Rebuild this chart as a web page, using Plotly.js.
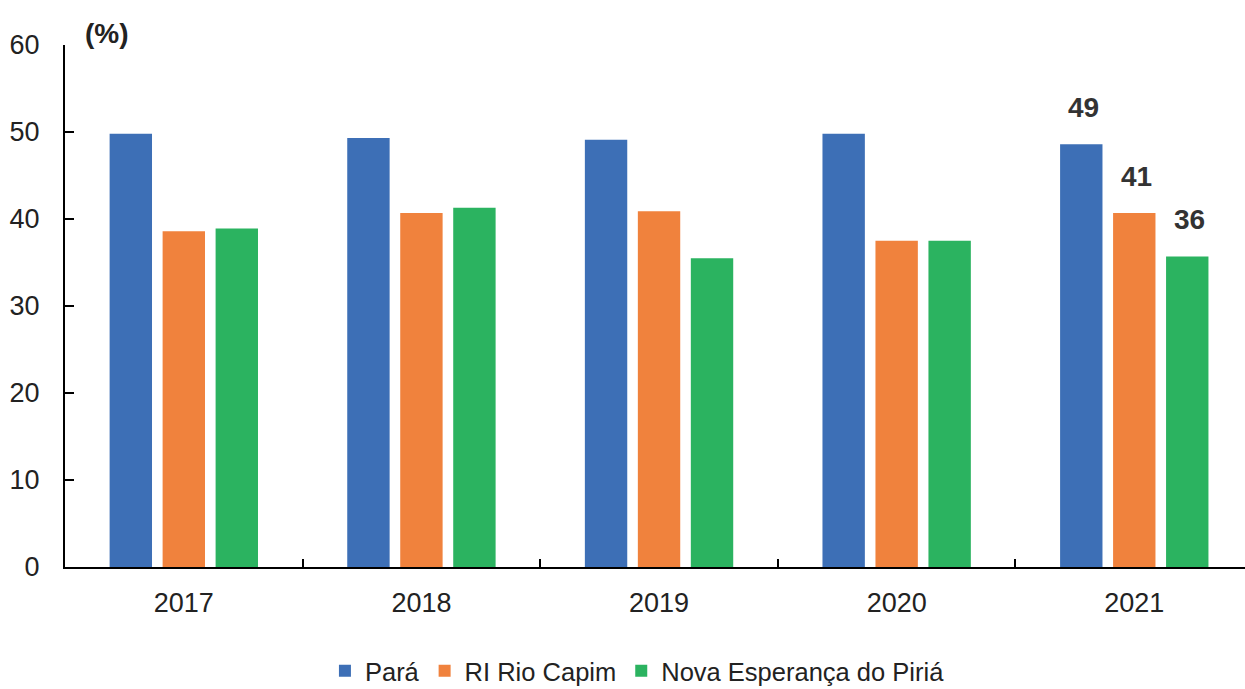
<!DOCTYPE html>
<html>
<head>
<meta charset="utf-8">
<script src="https://cdn.plot.ly/plotly-3.0.1.min.js"></script>
<style>html,body{margin:0;padding:0;background:#fff;}#chart{width:1245px;height:689px;}</style>
</head>
<body>
<div id="chart"></div>
<script>
const years = ['2017', '2018', '2019', '2020', '2021'];
const seriesNames = ['Pará', 'RI Rio Capim', 'Nova Esperança do Piriá'];
const para = [49.8, 49.3, 49.1, 49.8, 48.6];
const riRioCapim = [38.6, 40.7, 40.9, 37.5, 40.7];
const novaEsperanca = [38.9, 41.3, 35.5, 37.5, 35.7];
const labels2021 = ['49', '41', '36'];
const yTicks = [0, 10, 20, 30, 40, 50, 60];

const colors = ['#3D6FB6', '#F0823D', '#2BB360'];
const FONT = '"Liberation Sans Narrow", "Arial Narrow", "Liberation Sans", Arial, sans-serif';
const allSeries = [para, riRioCapim, novaEsperanca];

const traces = allSeries.map((vals, i) => ({
  type: 'bar',
  name: seriesNames[i],
  x: years,
  y: vals,
  marker: {color: colors[i], line: {width: 0}},
  hoverinfo: 'x+y+name'
}));

const slotPx = 53;
const lastIdx = years.length - 1;
const annotations = allSeries.map((vals, i) => ({
  x: lastIdx,
  y: vals[lastIdx],
  xref: 'x', yref: 'y',
  xshift: (i - 1) * slotPx + 2,
  yshift: 19,
  yanchor: 'bottom',
  text: '<b>' + labels2021[i] + '</b>',
  showarrow: false,
  font: {family: FONT, size: 28, color: '#333333'}
}));
annotations.push({
  xref: 'paper', yref: 'paper',
  x: 0.015, y: 1.0,
  xanchor: 'left', yanchor: 'bottom',
  yshift: -6,
  text: '<b>(%)</b>',
  showarrow: false,
  font: {family: FONT, size: 28, color: '#222222'}
});

const layout = {
  width: 1245,
  height: 689,
  margin: {l: 65, r: 0, t: 45, b: 122},
  paper_bgcolor: '#ffffff',
  plot_bgcolor: '#ffffff',
  font: {family: FONT, size: 27, color: '#222222'},
  barmode: 'group',
  bargap: 0.331,
  bargroupgap: 0.2,
  showlegend: true,
  legend: {
    orientation: 'h',
    xref: 'container', yref: 'container',
    x: 0.512, xanchor: 'center',
    y: 0.026, yanchor: 'middle',
    font: {family: FONT, size: 25.5, color: '#222222'},
    traceorder: 'normal'
  },
  xaxis: {
    type: 'category',
    range: [-0.5, 4.466],
    showline: true,
    linecolor: '#000000',
    linewidth: 2,
    ticks: 'inside',
    tickson: 'boundaries',
    ticklen: 8,
    tickwidth: 2,
    tickcolor: '#000000',
    showgrid: false,
    zeroline: false,
    tickfont: {family: FONT, size: 27, color: '#222222'},
    ticklabelstandoff: 11,
    fixedrange: true
  },
  yaxis: {
    range: [0, 60],
    tickvals: yTicks,
    showline: true,
    linecolor: '#000000',
    linewidth: 2,
    ticks: 'inside',
    ticklen: 9,
    tickwidth: 2,
    tickcolor: '#000000',
    showgrid: false,
    zeroline: false,
    tickfont: {family: FONT, size: 27, color: '#222222'},
    ticklabelstandoff: 18,
    fixedrange: true
  },
  annotations: annotations
};

Plotly.newPlot('chart', traces, layout, {displayModeBar: false, staticPlot: true});
</script>
</body>
</html>
